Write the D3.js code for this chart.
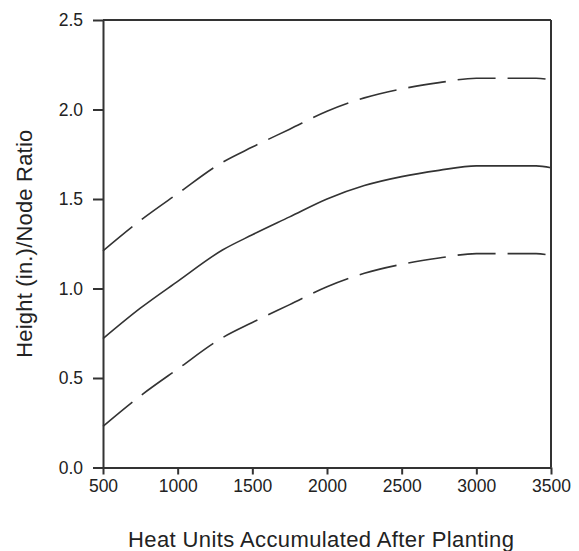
<!DOCTYPE html>
<html>
<head>
<meta charset="utf-8">
<script src="https://cdn.jsdelivr.net/npm/d3@7"></script>
<style>
  body { margin: 0; background: #fff; }
  text { font-family: "Liberation Sans", Arial, sans-serif; fill: #222; }
</style>
</head>
<body>
<div id="chart"></div>
<script>
// values
var heatUnits = [500, 750, 1000, 1300, 1500, 1750, 2000, 2250, 2500, 2750, 3000, 3250, 3400, 3500];
var ratioMid  = [0.72, 0.89, 1.04, 1.215, 1.30, 1.40, 1.50, 1.575, 1.625, 1.66, 1.685, 1.685, 1.685, 1.675];
var ratioUp   = [1.21, 1.38, 1.53, 1.705, 1.79, 1.89, 1.99, 2.065, 2.115, 2.15, 2.175, 2.175, 2.175, 2.165];
var ratioLow  = [0.23, 0.40, 0.55, 0.725, 0.81, 0.91, 1.01, 1.085, 1.135, 1.17, 1.195, 1.195, 1.195, 1.185];
var xTicks = [500, 1000, 1500, 2000, 2500, 3000, 3500];
var yTicks = [0, 0.5, 1, 1.5, 2, 2.5];

var margin = { top: 20, right: 28, bottom: 83.5, left: 103 };
var width = 579 - margin.left - margin.right,
  height = 551 - margin.top - margin.bottom;

var svg = d3.select("#chart")
  .append("svg")
  .attr("width", 579)
  .attr("height", 551)
  .append("g")
  .attr("transform", "translate(" + margin.left + "," + margin.top + ")");

var x = d3.scaleLinear().domain([500, 3500]).range([0, width]);
var y = d3.scaleLinear().domain([0, 2.5]).range([height, 0]);

var xAxis = d3.axisBottom(x).tickValues(xTicks).tickSize(7).tickSizeOuter(0).tickPadding(5)
  .tickFormat(d3.format("d"));
var yAxis = d3.axisLeft(y).tickValues(yTicks).tickSize(10).tickSizeOuter(0).tickPadding(10)
  .tickFormat(d3.format(".1f"));

// box
svg.append("line").attr("x1", 0).attr("x2", width).attr("y1", 0).attr("y2", 0)
  .attr("stroke", "#333").attr("stroke-width", 2);
svg.append("line").attr("x1", width).attr("x2", width).attr("y1", 0).attr("y2", height)
  .attr("stroke", "#333").attr("stroke-width", 2);

var gx = svg.append("g")
  .attr("transform", "translate(0," + height + ")")
  .call(xAxis);
var gy = svg.append("g").call(yAxis);

[gx, gy].forEach(function (g) {
  g.selectAll("path, line").attr("stroke", "#333").attr("stroke-width", 2);
  g.selectAll("text").style("font-size", "17.5px").attr("fill", "#222");
});

var line = d3.line()
  .x(function (d) { return x(d[0]); })
  .y(function (d) { return y(d[1]); })
  .curve(d3.curveMonotoneX);

var series = [
  { vals: ratioUp, dash: "38,12" },
  { vals: ratioMid, dash: null },
  { vals: ratioLow, dash: "38,12" }
];

series.forEach(function (s) {
  svg.append("path")
    .datum(heatUnits.map(function (h, i) { return [h, s.vals[i]]; }))
    .attr("d", line)
    .attr("fill", "none")
    .attr("stroke", "#333")
    .attr("stroke-width", 1.6)
    .attr("stroke-dasharray", s.dash);
});

svg.append("text")
  .attr("x", width / 2 - 6)
  .attr("y", height + 79)
  .attr("text-anchor", "middle")
  .style("font-size", "22px")
  .attr("textLength", 386)
  .attr("lengthAdjust", "spacing")
  .text("Heat Units Accumulated After Planting");

svg.append("text")
  .attr("transform", "translate(-71," + (height / 2) + ") rotate(-90)")
  .attr("text-anchor", "middle")
  .style("font-size", "22px")
  .attr("textLength", 228)
  .attr("lengthAdjust", "spacing")
  .text("Height (in.)/Node Ratio");
</script>
</body>
</html>
